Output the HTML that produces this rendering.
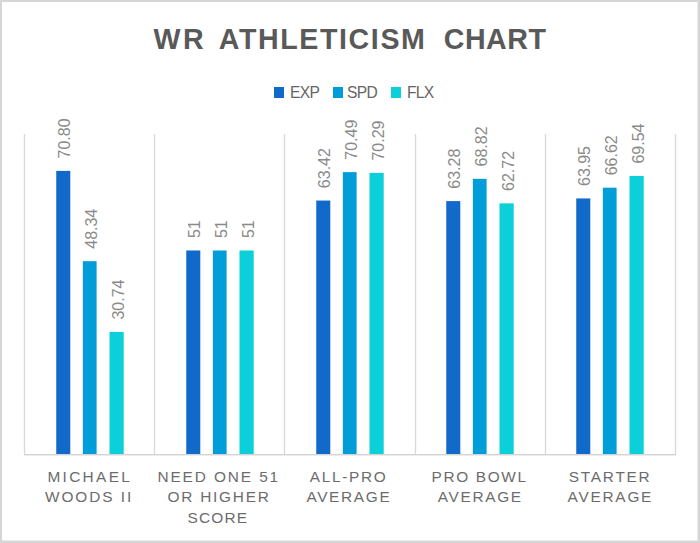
<!DOCTYPE html>
<html><head><meta charset="utf-8">
<style>
html,body{margin:0;padding:0;background:#fff;}
body{width:700px;height:543px;position:relative;overflow:hidden;font-family:"Liberation Sans",sans-serif;}
#frame{position:absolute;left:0;top:0;width:700px;height:543px;box-sizing:border-box;border:2px solid #d6d6d6;}
#frame2{position:absolute;left:2px;top:2px;width:696px;height:539px;box-sizing:border-box;border-style:solid;border-color:#ebebeb;border-width:0 1px 1px 0;}
.t{position:absolute;white-space:pre;line-height:1;}
.ttl{top:24.9px;font-size:28.6px;font-weight:bold;color:#595959;}
.leg{position:absolute;white-space:pre;font-size:15.6px;letter-spacing:-0.7px;color:#666666;line-height:1;}
.sq{position:absolute;width:10px;height:11px;}
.cat{position:absolute;white-space:pre;font-size:15.4px;color:#6c6c6c;line-height:1;}
</style></head><body>
<div id="frame"></div><div id="frame2"></div>
<svg width="700" height="543" style="position:absolute;left:0;top:0">
<g fill="#d9d9d9">
<rect x="23.8" y="134" width="1.4" height="320"/>
<rect x="153.8" y="134" width="1.4" height="320"/>
<rect x="283.8" y="134" width="1.4" height="320"/>
<rect x="414.8" y="134" width="1.4" height="320"/>
<rect x="544.8" y="134" width="1.4" height="320"/>
<rect x="674.8" y="134" width="1.4" height="320"/>
<rect x="24" y="454.1" width="652" height="1.3" fill="#d0d0d0"/>
</g>
<g>
<rect x="56.25" y="170.88" width="14.05" height="283.12" fill="#1169CA"/>
<rect x="82.85" y="261.17" width="13.75" height="192.83" fill="#009DD9"/>
<rect x="109.50" y="331.93" width="14.2" height="122.07" fill="#0BD0D9"/>
<rect x="186.25" y="250.48" width="14.05" height="203.52" fill="#1169CA"/>
<rect x="212.85" y="250.48" width="13.75" height="203.52" fill="#009DD9"/>
<rect x="239.50" y="250.48" width="14.2" height="203.52" fill="#0BD0D9"/>
<rect x="316.25" y="200.55" width="14.05" height="253.45" fill="#1169CA"/>
<rect x="342.85" y="172.13" width="13.75" height="281.87" fill="#009DD9"/>
<rect x="369.50" y="172.93" width="14.2" height="281.07" fill="#0BD0D9"/>
<rect x="446.25" y="201.11" width="14.05" height="252.89" fill="#1169CA"/>
<rect x="472.85" y="178.84" width="13.75" height="275.16" fill="#009DD9"/>
<rect x="499.50" y="203.37" width="14.2" height="250.63" fill="#0BD0D9"/>
<rect x="576.25" y="198.42" width="14.05" height="255.58" fill="#1169CA"/>
<rect x="602.85" y="187.69" width="13.75" height="266.31" fill="#009DD9"/>
<rect x="629.50" y="175.95" width="14.2" height="278.05" fill="#0BD0D9"/>
</g>
<g font-family="Liberation Sans" font-size="16" fill="#8a8a8a">
<text transform="translate(70.38,158.48) rotate(-90)">70.80</text>
<text transform="translate(96.82,248.77) rotate(-90)">48.34</text>
<text transform="translate(123.70,319.53) rotate(-90)">30.74</text>
<text transform="translate(200.38,238.08) rotate(-90)">51</text>
<text transform="translate(226.82,238.08) rotate(-90)">51</text>
<text transform="translate(253.70,238.08) rotate(-90)">51</text>
<text transform="translate(330.38,188.15) rotate(-90)">63.42</text>
<text transform="translate(356.83,159.73) rotate(-90)">70.49</text>
<text transform="translate(383.70,160.53) rotate(-90)">70.29</text>
<text transform="translate(460.38,188.71) rotate(-90)">63.28</text>
<text transform="translate(486.83,166.44) rotate(-90)">68.82</text>
<text transform="translate(513.70,190.97) rotate(-90)">62.72</text>
<text transform="translate(590.38,186.02) rotate(-90)">63.95</text>
<text transform="translate(616.83,175.29) rotate(-90)">66.62</text>
<text transform="translate(643.70,163.55) rotate(-90)">69.54</text>
</g>
</svg>
<div class="t ttl" style="left:153.6px;letter-spacing:2.5px">WR</div>
<div class="t ttl" style="left:218.8px;letter-spacing:1.6px">ATHLETICISM</div>
<div class="t ttl" style="left:443.8px;letter-spacing:0.5px">CHART</div>
<div class="sq" style="left:274px;top:87px;background:#1169CA"></div>
<div class="leg" style="left:290px;top:85px">EXP</div>
<div class="sq" style="left:333px;top:87px;background:#009DD9"></div>
<div class="leg" style="left:347px;top:85px">SPD</div>
<div class="sq" style="left:391px;top:87px;background:#0BD0D9"></div>
<div class="leg" style="left:407px;top:85px">FLX</div>
<div class="cat" style="left:47.4px;top:469.15px;letter-spacing:2.333px">MICHAEL</div>
<div class="cat" style="left:45.0px;top:489.15px;letter-spacing:1.929px">WOODS II</div>
<div class="cat" style="left:157.4px;top:469.15px;letter-spacing:1.900px">NEED ONE 51</div>
<div class="cat" style="left:167.6px;top:489.15px;letter-spacing:1.750px">OR HIGHER</div>
<div class="cat" style="left:187.4px;top:510.15px;letter-spacing:1.250px">SCORE</div>
<div class="cat" style="left:309.8px;top:469.15px;letter-spacing:1.667px">ALL-PRO</div>
<div class="cat" style="left:306.4px;top:489.15px;letter-spacing:1.667px">AVERAGE</div>
<div class="cat" style="left:431.6px;top:469.15px;letter-spacing:1.643px">PRO BOWL</div>
<div class="cat" style="left:437.8px;top:489.15px;letter-spacing:1.667px">AVERAGE</div>
<div class="cat" style="left:568.8px;top:469.15px;letter-spacing:1.750px">STARTER</div>
<div class="cat" style="left:567.6px;top:489.15px;letter-spacing:1.750px">AVERAGE</div>

</body></html>
